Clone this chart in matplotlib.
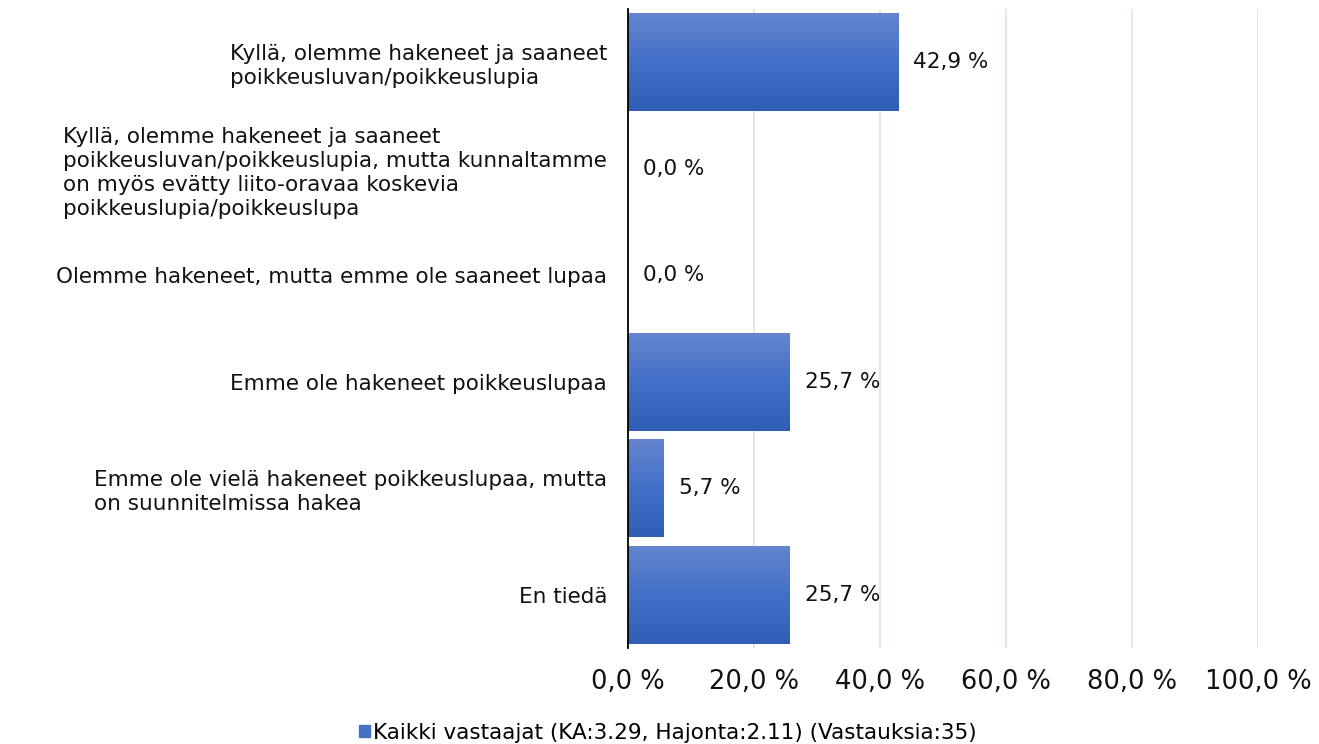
import matplotlib
matplotlib.use("Agg")
import matplotlib.pyplot as plt
import matplotlib.patches as mpatches
import numpy as np
from matplotlib.colors import LinearSegmentedColormap

# wide sans to mimic the letter-spaced Arial of the original
plt.rcParams["font.family"] = ["DejaVu Sans"]

# ── Data ──────────────────────────────────────────────────────────────────────
categories = [
    "Kyllä, olemme hakeneet ja saaneet\npoikkeusluvan/poikkeuslupia",
    "Kyllä, olemme hakeneet ja saaneet\npoikkeusluvan/poikkeuslupia, mutta kunnaltamme\n"
    "on myös evätty liito-oravaa koskevia\npoikkeuslupia/poikkeuslupa",
    "Olemme hakeneet, mutta emme ole saaneet lupaa",
    "Emme ole hakeneet poikkeuslupaa",
    "Emme ole vielä hakeneet poikkeuslupaa, mutta\non suunnitelmissa hakea",
    "En tiedä",
]
values = [42.9, 0.0, 0.0, 25.7, 5.7, 25.7]
xticks = [0, 20, 40, 60, 80, 100]
series_label = "Kaikki vastaajat (KA:3.29, Hajonta:2.11) (Vastauksia:35)"

fmt = lambda v: f"{v:.1f}".replace(".", ",") + " %"

# ── Figure ────────────────────────────────────────────────────────────────────
fig = plt.figure(figsize=(13.19, 7.44), dpi=100)
ax = fig.add_axes([628 / 1319, 96 / 744, 630 / 1319, 639 / 744])

y = np.arange(len(categories))
bars = ax.barh(y, values, height=0.92, color="#4472C4", edgecolor="none", zorder=2)

# vertical gradient fill, clipped to each bar
grad = LinearSegmentedColormap.from_list("g", ["#6585CE", "#4270C8", "#2F5EB7"])
gimg = np.linspace(0, 1, 256).reshape(-1, 1)
for b in bars:
    if b.get_width() <= 0:
        continue
    x0, y0, w, h = b.get_x(), b.get_y(), b.get_width(), b.get_height()
    im = ax.imshow(gimg, cmap=grad, aspect="auto", origin="upper",
                   extent=[x0, x0 + w, y0 + h, y0], zorder=3)
    im.set_clip_path(b)

for yi, v in zip(y, values):
    ax.text(v + 2.4, yi, fmt(v), ha="left", va="center", fontsize=15.5, color="#111")

ax.set_xlim(0, 100)
ax.set_ylim(len(categories) - 0.5, -0.5)
ax.set_xticks(xticks)
ax.set_xticklabels([fmt(t) for t in xticks], fontsize=18.5, color="#111")
ax.set_yticks(y)
ax.set_yticklabels(categories, fontsize=15.5, color="#111", linespacing=1.25)
for lab in ax.get_yticklabels():
    lab.set_multialignment("left")
ax.tick_params(axis="both", length=0)
ax.tick_params(axis="y", pad=15)
ax.tick_params(axis="x", pad=15)

ax.grid(axis="x", color="#D9E3EF", lw=1.2, zorder=0)
ax.set_axisbelow(True)
for s in ["top", "right", "bottom"]:
    ax.spines[s].set_visible(False)
ax.spines["left"].set_color("black")
ax.spines["left"].set_linewidth(1.3)
ax.spines["left"].set_zorder(5)

handle = mpatches.Patch(color="#4472C4", label=series_label)
fig.legend(handles=[handle], loc="center", bbox_to_anchor=(668 / 1319, 1 - 733 / 744),
           frameon=False, fontsize=15.5, handlelength=0.5, handleheight=0.5,
           handletextpad=0.15)

fig.savefig("out.png", dpi=100)
